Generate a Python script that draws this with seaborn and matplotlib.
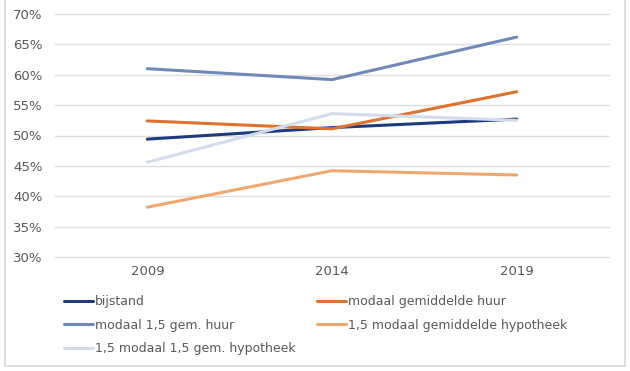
import matplotlib
matplotlib.use("Agg")
import matplotlib.pyplot as plt
from matplotlib.lines import Line2D
import pandas as pd
import seaborn as sns

years = ["2009", "2014", "2019"]
series = ["bijstand", "modaal gemiddelde huur", "modaal 1,5 gem. huur",
          "1,5 modaal gemiddelde hypotheek", "1,5 modaal 1,5 gem. hypotheek"]
bijstand = [49.4, 51.3, 52.7]
modaal_huur = [52.4, 51.1, 57.2]
modaal_15_huur = [61.0, 59.2, 66.2]
hyp_gem = [38.2, 44.2, 43.5]
hyp_15 = [45.6, 53.6, 52.5]
colors = ["#1f3b7d", "#df7131", "#6f89b8", "#eea86f", "#d3dceb"]
yticks = [30, 35, 40, 45, 50, 55, 60, 65, 70]

values = [bijstand, modaal_huur, modaal_15_huur, hyp_gem, hyp_15]
df = pd.DataFrame([(s, y, v) for s, vals in zip(series, values) for y, v in zip(years, vals)],
                  columns=["serie", "jaar", "pct"])

sns.set_style("white")
plt.rcParams['font.family'] = ['DejaVu Sans']
txt = "#595959"

fig = plt.figure(figsize=(6.3, 3.71), dpi=100)
ax = fig.add_axes([55/630, 1-257/371, (609-55)/630, (257-14)/371])
sns.lineplot(data=df, x="jaar", y="pct", hue="serie", hue_order=series,
             palette=colors, linewidth=2.2, ax=ax, legend=False, sort=False)

ax.set_xlim(-0.5, 2.5)
ax.set_ylim(30, 70)
ax.set_yticks(yticks)
ax.set_yticklabels([f"{t}%" for t in yticks])
ax.grid(axis="y", color="#dedede", linewidth=1)
for gl in ax.get_ygridlines():
    gl.set_clip_on(False)
ax.set_axisbelow(True)
for sp in ax.spines.values():
    sp.set_visible(False)
ax.tick_params(length=0, labelsize=9.5, labelcolor=txt)
ax.tick_params(axis="y", pad=9)
ax.tick_params(axis="x", pad=6)
ax.set_xlabel("")
ax.set_ylabel("")

# legend laid out row-wise as in the original, two columns
handles = [Line2D([], [], color=c, linewidth=2.2) for c in colors]
kw = dict(frameon=False, fontsize=9, labelcolor=txt, handlelength=2.3,
          handletextpad=0.15, labelspacing=0.85, borderpad=0, borderaxespad=0,
          loc="upper left")
fig.legend([handles[i] for i in (0, 2, 4)], [series[i] for i in (0, 2, 4)],
           bbox_to_anchor=(64/630, 1-295/371), **kw)
fig.legend([handles[i] for i in (1, 3)], [series[i] for i in (1, 3)],
           bbox_to_anchor=(317/630, 1-295/371), **kw)

# light frame around the chart (top edge is cut off in the original)
fc = "#d9d9d9"
for xs, ys in [([4.5, 4.5], [0, 365.5]), ([624.5, 624.5], [0, 365.5]), ([4.5, 624.5], [365.5, 365.5])]:
    fig.add_artist(Line2D([x/630 for x in xs], [1-y/371 for y in ys], color=fc, linewidth=1.2))

fig.savefig("out.png", dpi=100)
